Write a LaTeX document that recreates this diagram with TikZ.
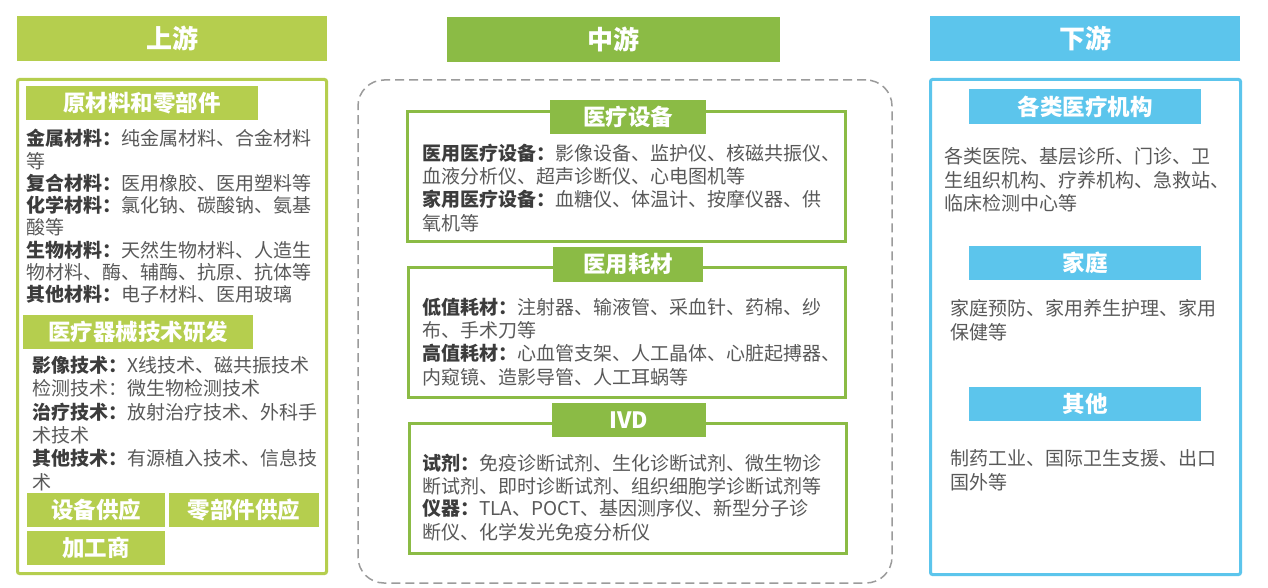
\documentclass[tikz,border=0pt]{standalone}
\usepackage{fontspec}
\setmainfont{Noto Sans CJK SC}
\definecolor{upg}{HTML}{B5CE4E}
\definecolor{midg}{HTML}{8BBB45}
\definecolor{dnb}{HTML}{5CC5EC}
\definecolor{boldtxt}{HTML}{3C3C3C}
\definecolor{regtxt}{HTML}{595959}
\definecolor{dashgray}{HTML}{9B9B9B}
\tikzset{
  hdr/.style={inner sep=0pt, outer sep=0pt, text=white, font=\fontsize{26}{26}\selectfont\bfseries},
  subhdr/.style={inner sep=0pt, outer sep=0pt, text=white, font=\fontsize{22.5}{22.5}\selectfont\bfseries},
  body/.style={inner sep=0pt, anchor=base west, text=regtxt, font=\fontsize{19}{19}\selectfont},
  framebox/.style={inner sep=0pt, outer sep=0pt, line width=3pt},
}
\newcommand\hb[1]{\textcolor{boldtxt}{\bfseries #1}}
\begin{document}
\begin{tikzpicture}[x=1pt,y=-1pt]
\useasboundingbox[fill=white] (0,0) rectangle (1268,588);
% ---------- headers ----------
\node[hdr, fill=upg, minimum width=310pt, minimum height=45pt] (hup) at (172,38.5) {上游};
\node[hdr, fill=midg, minimum width=333pt, minimum height=45pt] (hmid) at (613.5,39.5) {中游};
\node[hdr, fill=dnb, minimum width=310pt, minimum height=45pt] (hdown) at (1085,38.5) {下游};
% ---------- upstream ----------
\node[framebox, draw=upg, rounded corners=2pt, minimum width=309pt, minimum height=494pt] (upbox) at (172,326.5) {};
\node[subhdr, fill=upg, minimum width=232pt, minimum height=34pt] (s1) at (142,103) {原材料和零部件};
\node[body] (u1) at (26,146) {\hb{金属材料：}纯金属材料、合金材料};
\node[body] (u2) at (26,168.2) {等};
\node[body] (u3) at (26,190.4) {\hb{复合材料：}医用橡胶、医用塑料等};
\node[body] (u4) at (26,212.6) {\hb{化学材料：}氯化钠、碳酸钠、氨基};
\node[body] (u5) at (26,234.8) {酸等};
\node[body] (u6) at (26,257) {\hb{生物材料：}天然生物材料、人造生};
\node[body] (u7) at (26,279.2) {物材料、酶、辅酶、抗原、抗体等};
\node[body] (u8) at (26,301.4) {\hb{其他材料：}电子材料、医用玻璃};
\node[subhdr, fill=upg, minimum width=230pt, minimum height=34pt] (s2) at (138,332) {医疗器械技术研发};
\node[body] (t1) at (32,372) {\hb{影像技术：}X线技术、磁共振技术};
\node[body] (t2) at (32,395) {检测技术：微生物检测技术};
\node[body] (t3) at (32,419) {\hb{治疗技术：}放射治疗技术、外科手};
\node[body] (t4) at (32,442) {术技术};
\node[body] (t5) at (32,465) {\hb{其他技术：}有源植入技术、信息技};
\node[body] (t6) at (32,489) {术};
\node[subhdr, fill=upg, minimum width=138pt, minimum height=34pt] (s3) at (96,510) {设备供应};
\node[subhdr, fill=upg, minimum width=150pt, minimum height=34pt] (s4) at (244,510) {零部件供应};
\node[subhdr, fill=upg, minimum width=138pt, minimum height=34pt] (s5) at (96,548) {加工商};
% ---------- midstream ----------
\node[inner sep=0pt, outer sep=0pt, draw=dashgray, line width=1.5pt, dash pattern=on 9pt off 5pt, rounded corners=26pt, minimum width=534pt, minimum height=503pt] (midbox) at (625,331.5) {};
\node[framebox, draw=midg, minimum width=438pt, minimum height=130pt] (b1) at (626.5,176.5) {};
\node[subhdr, fill=midg, minimum width=156pt, minimum height=34pt] (m1) at (628,117) {医疗设备};
\node[body] (a1) at (422,161) {\hb{医用医疗设备：}影像设备、监护仪、核磁共振仪、};
\node[body] (a2) at (422,184) {血液分析仪、超声诊断仪、心电图机等};
\node[body] (a3) at (422,207) {\hb{家用医疗设备：}血糖仪、体温计、按摩仪器、供};
\node[body] (a4) at (422,230) {氧机等};
\node[framebox, draw=midg, minimum width=437pt, minimum height=130pt] (b2) at (627,332.5) {};
\node[subhdr, fill=midg, minimum width=150pt, minimum height=35pt] (m2) at (628,264.5) {医用耗材};
\node[body] (c1) at (422,314) {\hb{低值耗材：}注射器、输液管、采血针、药棉、纱};
\node[body] (c2) at (422,337) {布、手术刀等};
\node[body] (c3) at (422,360) {\hb{高值耗材：}心血管支架、人工晶体、心脏起搏器、};
\node[body] (c4) at (422,384) {内窥镜、造影导管、人工耳蜗等};
\node[framebox, draw=midg, minimum width=437pt, minimum height=130pt] (b3) at (628,488.5) {};
\node[subhdr, fill=midg, minimum width=154pt, minimum height=34pt] (m3) at (629,420) {IVD};
\node[body] (d1) at (422,470) {\hb{试剂：}免疫诊断试剂、生化诊断试剂、微生物诊};
\node[body] (d2) at (422,493) {断试剂、即时诊断试剂、组织细胞学诊断试剂等};
\node[body] (d3) at (422,515) {\hb{仪器：}TLA、POCT、基因测序仪、新型分子诊};
\node[body] (d4) at (422,539) {断仪、化学发光免疫分析仪};
% ---------- downstream ----------
\node[framebox, draw=dnb, rounded corners=2pt, minimum width=310pt, minimum height=495pt] (dnbox) at (1085.5,327) {};
\node[subhdr, fill=dnb, minimum width=232pt, minimum height=35pt] (r1) at (1085,106.5) {各类医疗机构};
\node[body] (e1) at (944,164) {各类医院、基层诊所、门诊、卫};
\node[body] (e2) at (944,188) {生组织机构、疗养机构、急救站、};
\node[body] (e3) at (944,211) {临床检测中心等};
\node[subhdr, fill=dnb, minimum width=232pt, minimum height=34pt] (r2) at (1085,263) {家庭};
\node[body] (f1) at (950,315) {家庭预防、家用养生护理、家用};
\node[body] (f2) at (950,339) {保健等};
\node[subhdr, fill=dnb, minimum width=232pt, minimum height=34pt] (r3) at (1085,404) {其他};
\node[body] (g1) at (950,465) {制药工业、国际卫生支援、出口};
\node[body] (g2) at (950,489) {国外等};
\end{tikzpicture}
\end{document}
